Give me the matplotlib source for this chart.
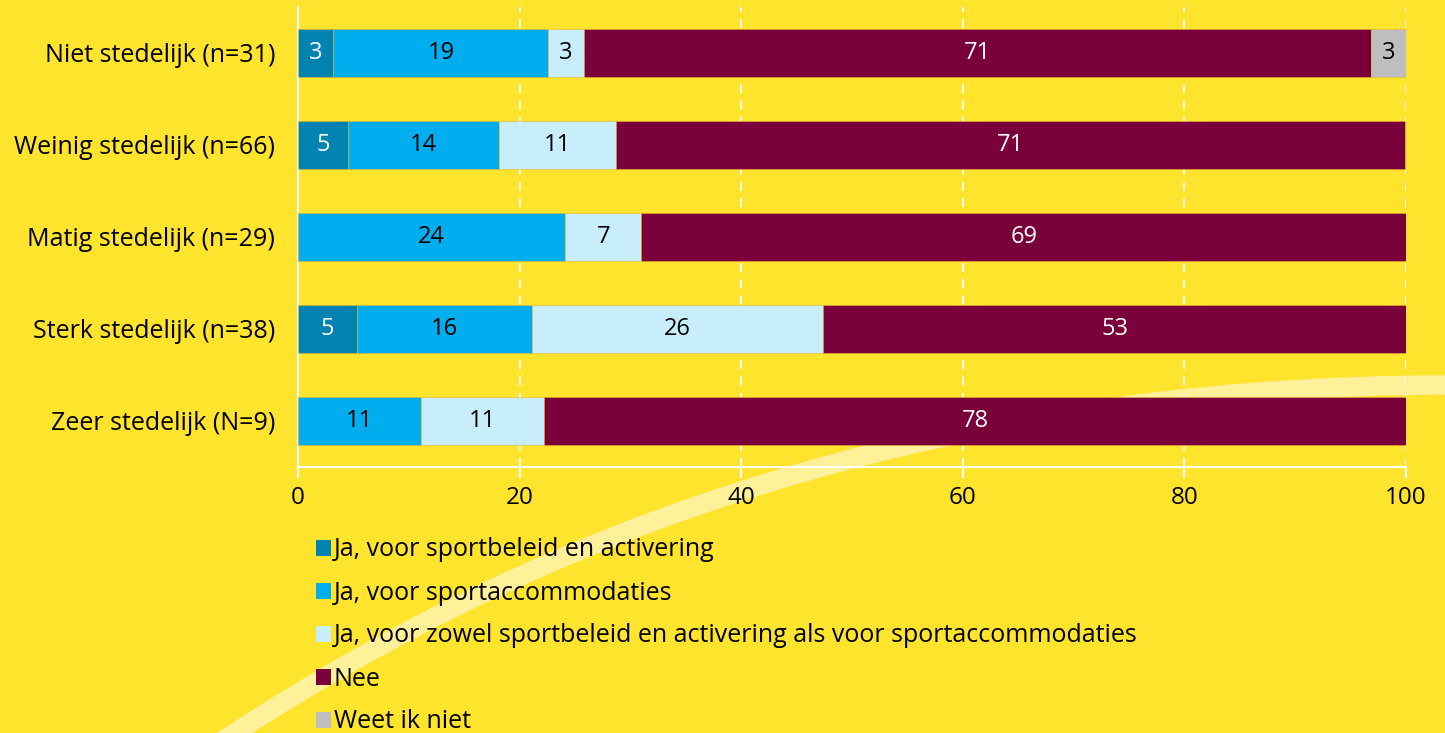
import matplotlib.pyplot as plt
from matplotlib.path import Path
from matplotlib.patches import PathPatch, Patch
import numpy as np

plt.rcParams['font.family'] = ['Open Sans', 'DejaVu Sans']

groups = ['Niet stedelijk (n=31)', 'Weinig stedelijk (n=66)', 'Matig stedelijk (n=29)',
          'Sterk stedelijk (n=38)', 'Zeer stedelijk (N=9)']
series = ['Ja, voor sportbeleid en activering',
          'Ja, voor sportaccommodaties',
          'Ja, voor zowel sportbeleid en activering als voor sportaccommodaties',
          'Nee',
          'Weet ik niet']
beleid = [3.2, 4.5, 0, 5.3, 0]
accommodaties = [19.4, 13.6, 24.1, 15.8, 11.1]
zowel = [3.2, 10.6, 6.9, 26.3, 11.1]
nee = [71.0, 71.2, 69.0, 52.6, 77.8]
weet_niet = [3.2, 0, 0, 0, 0]

colors = ['#0083B0', '#00AEEF', '#C8EEFC', '#7A003C', '#BEBEBE']
text_colors = ['white', 'black', 'black', 'white', 'black']
bg = '#FFE42D'

W, H = 1445, 733
fig = plt.figure(figsize=(W / 100, H / 100), dpi=100, facecolor=bg)

# decorative light swoosh in the background
verts = [(212, 748), (500, 555), (900, 383), (1460, 385)]
verts = [(x / W, 1 - y / H) for x, y in verts]
swoosh = PathPatch(Path(verts, [Path.MOVETO, Path.CURVE4, Path.CURVE4, Path.CURVE4]),
                   transform=fig.transFigure, facecolor='none', edgecolor='#FFF09A',
                   lw=14, zorder=-1)
fig.patches.append(swoosh)

ax = fig.add_axes([298 / W, 1 - 467 / H, (1406 - 298) / W, (467 - 7) / H])
ax.set_facecolor('none')

y = np.arange(len(groups))
left = np.zeros(len(groups))
for vals, col, tc in zip([beleid, accommodaties, zowel, nee, weet_niet], colors, text_colors):
    vals = np.array(vals)
    ax.barh(y, vals, left=left, height=0.53, color=col, edgecolor='#E8B030',
            linewidth=0.4, zorder=3)
    for yi, (l, v) in enumerate(zip(left, vals)):
        if v > 0:
            ax.text(l + v / 2, yi, str(int(v + 0.5)), ha='center', va='center',
                    color=tc, fontsize=17, zorder=4)
    left += vals

ax.set_xlim(0, 100)
ax.set_ylim(4.5, -0.5)
ax.set_yticks(y)
ax.set_yticklabels(groups, fontsize=18)
ax.set_xticks([0, 20, 40, 60, 80, 100])
ax.tick_params(axis='y', length=0, pad=16.5)
ax.tick_params(axis='x', colors='white', length=8, width=1.5, labelsize=17.5, labelcolor='black', pad=6)
for lbl in ax.get_yticklabels():
    lbl.set_color('black')

for s in ['top', 'right']:
    ax.spines[s].set_visible(False)
for s in ['left', 'bottom']:
    ax.spines[s].set_color('white')
    ax.spines[s].set_linewidth(1.5)

ax.grid(axis='x', color='white', linestyle=(0, (5, 4)), linewidth=1.3, zorder=1)
ax.set_axisbelow(True)

handles = [Patch(facecolor=c, edgecolor='none') for c in colors]
leg = fig.legend(handles, series, loc='upper left', bbox_to_anchor=(316 / W, 1 - 537.5 / H),
                 frameon=False, fontsize=18, handlelength=0.6, handleheight=0.6,
                 handletextpad=0.12, labelspacing=0.72, borderpad=0, borderaxespad=0)

plt.savefig('out.png', dpi=100, facecolor=bg)
